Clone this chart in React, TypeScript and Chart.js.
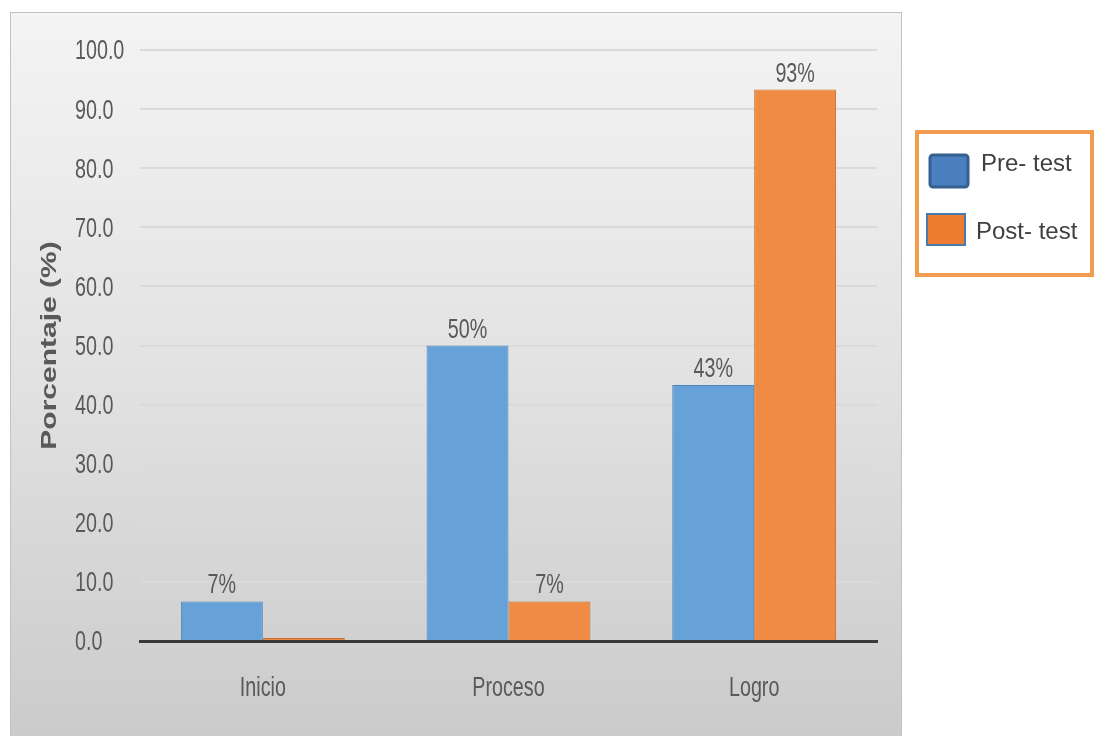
import React, { useEffect, useRef } from "react";
import { Chart, registerables } from "chart.js";

Chart.register(...registerables);

const categories = ["Inicio", "Proceso", "Logro"];
const seriesNames = ["Pre- test", "Post- test"];
const preTest = [6.7, 50.0, 43.3];
const postTest = [0.5, 6.7, 93.3];
const preLabels = ["7%", "50%", "43%"];
const postLabels = ["", "7%", "93%"];
const yMin = 0;
const yMax = 100;
const yStep = 10;
const yTitle = "Porcentaje (%)";

const SANS = '"Liberation Sans", "DejaVu Sans", sans-serif';
const SQUEEZE = 0.73;
const LABEL_FONT = "27px " + SANS;

const barColors = ["#66a1d8", "#ef8b42"];
const barBorders = ["#4f86bd", "#c66f2b"];
const legendFills = ["#4a7fc0", "#ee7c30"];
const legendBorders = ["#35608f", "#4a7bb0"];

const W = 1096;
const H = 736;

function squeezedText(
  ctx: CanvasRenderingContext2D,
  text: string,
  x: number,
  y: number,
  align: CanvasTextAlign,
  baseline: CanvasTextBaseline
) {
  ctx.save();
  ctx.translate(x, y);
  ctx.scale(SQUEEZE, 1);
  ctx.textAlign = align;
  ctx.textBaseline = baseline;
  ctx.fillText(text, 0, 0);
  ctx.restore();
}

const decorPlugin = {
  id: "decor",
  beforeDraw(chart: any) {
    const ctx = chart.ctx as CanvasRenderingContext2D;
    ctx.save();
    ctx.fillStyle = "#ffffff";
    ctx.fillRect(0, 0, W, H);
    const g = ctx.createLinearGradient(0, 12, 0, H);
    g.addColorStop(0, "#f4f4f4");
    g.addColorStop(0.5, "#e2e2e2");
    g.addColorStop(1, "#cbcbcb");
    ctx.fillStyle = g;
    ctx.fillRect(10, 12, 892, H - 12);
    ctx.strokeStyle = "#c2c2c2";
    ctx.lineWidth = 1;
    ctx.strokeRect(10.5, 12.5, 891, H);
    // y-axis title
    const area = chart.chartArea;
    ctx.translate(50, (area.top + area.bottom) / 2);
    ctx.rotate(-Math.PI / 2);
    ctx.scale(1, 0.75);
    ctx.font = "bold 30px " + SANS;
    ctx.fillStyle = "#595959";
    ctx.textAlign = "center";
    ctx.textBaseline = "middle";
    ctx.fillText(yTitle, 0, 0);
    ctx.restore();
  },
  afterDraw(chart: any) {
    const ctx = chart.ctx as CanvasRenderingContext2D;
    ctx.save();
    ctx.font = LABEL_FONT;
    ctx.fillStyle = "#595959";

    // y tick labels
    const ys = chart.scales.y;
    ys.ticks.forEach((t: any) => {
      const py = ys.getPixelForValue(t.value);
      squeezedText(ctx, Number(t.value).toFixed(1), ys.left + 2, py + 2, "left", "middle");
    });

    // x tick labels
    const xs = chart.scales.x;
    categories.forEach((c, i) => {
      squeezedText(ctx, c, xs.getPixelForTick(i), xs.top + 48, "center", "middle");
    });

    // data labels
    const labelSets = [preLabels, postLabels];
    labelSets.forEach((labels, di) => {
      const meta = chart.getDatasetMeta(di);
      meta.data.forEach((el: any, i: number) => {
        const t = labels[i];
        if (!t) return;
        squeezedText(ctx, t, el.x, el.y - 8, "center", "alphabetic");
      });
    });

    // legend box
    ctx.fillStyle = "#ffffff";
    ctx.fillRect(917, 132, 175, 143);
    ctx.strokeStyle = "#f29c50";
    ctx.lineWidth = 4;
    ctx.strokeRect(917, 132, 175, 143);
    const items = [
      { x: 930, y: 155, w: 38, h: 32, lw: 3, tx: 981, ty: 164 },
      { x: 927, y: 214, w: 38, h: 31, lw: 2, tx: 976, ty: 232 },
    ];
    items.forEach((it, i) => {
      ctx.fillStyle = legendFills[i];
      ctx.strokeStyle = legendBorders[i];
      ctx.lineWidth = it.lw;
      ctx.beginPath();
      if ((ctx as any).roundRect && i === 0) {
        (ctx as any).roundRect(it.x, it.y, it.w, it.h, 3);
      } else {
        ctx.rect(it.x, it.y, it.w, it.h);
      }
      ctx.fill();
      ctx.stroke();
      ctx.fillStyle = "#404040";
      ctx.font = "24px " + SANS;
      ctx.textAlign = "left";
      ctx.textBaseline = "middle";
      ctx.fillText(seriesNames[i], it.tx, it.ty);
    });
    ctx.restore();
  },
};

export default function App() {
  const ref = useRef<HTMLCanvasElement | null>(null);

  useEffect(() => {
    if (!ref.current) return;
    const chart = new Chart(ref.current, {
      type: "bar",
      data: {
        labels: categories,
        datasets: [
          {
            label: seriesNames[0],
            data: preTest,
            backgroundColor: barColors[0],
            borderColor: barBorders[0],
            borderWidth: 1,
          },
          {
            label: seriesNames[1],
            data: postTest,
            backgroundColor: barColors[1],
            borderColor: barBorders[1],
            borderWidth: 1,
          },
        ],
      },
      options: {
        responsive: false,
        animation: false,
        layout: { padding: { left: 73, right: 219, top: 50, bottom: 0 } },
        datasets: {
          bar: { barPercentage: 1, categoryPercentage: 0.667 },
        },
        plugins: {
          legend: { display: false },
          tooltip: { enabled: false },
          title: { display: false },
        },
        scales: {
          x: {
            grid: { display: false, drawTicks: false },
            border: { display: true, color: "#3a3a3a", width: 3 },
            ticks: { display: false },
            afterFit(scale: any) {
              scale.height = 95;
            },
          },
          y: {
            min: yMin,
            max: yMax,
            ticks: { stepSize: yStep, display: false },
            grid: { color: "#dadada", lineWidth: 2, drawTicks: false },
            border: { display: false },
            afterFit(scale: any) {
              scale.width = 67;
            },
          },
        },
      },
      plugins: [decorPlugin],
    });
    return () => chart.destroy();
  }, []);

  return (
    <div style={{ position: "fixed", left: 0, top: 0, width: W, height: H }}>
      <canvas ref={ref} width={W} height={H} style={{ display: "block" }} />
    </div>
  );
}
